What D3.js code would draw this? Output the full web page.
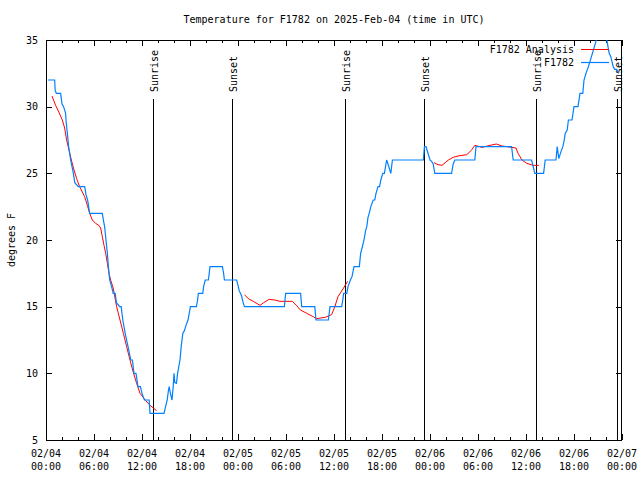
<!DOCTYPE html>
<html>
<head>
<meta charset="utf-8">
<script src="https://cdn.jsdelivr.net/npm/d3@7"></script>
<style>
  body { margin: 0; background: #fff; }
  text { font-family: "DejaVu Sans Mono", monospace; font-size: 10px; fill: #000; }
</style>
</head>
<body>
<svg id="chart" width="640" height="480"></svg>
<script>
// ---- data (hours since 2025-02-04 00:00 UTC) ----
const obsHours = [0.25,1.08,1.15,1.29,1.83,2.0,2.2,2.45,2.5,2.67,2.83,3.08,3.25,3.42,3.6,4.04,4.84,5.0,5.2,5.46,7.04,7.2,7.33,7.5,7.67,7.8,7.96,8.2,8.4,8.65,8.8,9.2,9.4,9.6,9.9,10.25,10.6,10.8,11.0,11.25,11.5,11.8,12.0,12.3,12.9,13.0,14.75,14.95,15.15,15.3,15.4,15.55,15.75,15.9,16.0,16.1,16.3,16.45,16.6,16.75,16.9,17.1,17.3,17.5,17.75,17.9,18.05,18.8,18.95,19.05,19.6,19.7,19.9,20.3,20.4,20.5,22.05,22.2,22.3,23.83,24.0,24.15,24.3,24.45,24.6,24.8,29.8,29.95,31.83,31.96,33.6,33.75,35.3,35.5,36.96,37.1,37.2,37.6,37.75,38.05,38.25,38.5,39.17,39.33,39.55,39.75,39.95,40.1,40.25,40.4,40.6,40.9,41.1,41.25,41.5,41.7,41.85,42.1,42.3,42.58,42.75,42.95,43.1,43.3,47.17,47.3,47.5,47.7,48.0,48.2,48.4,48.6,50.7,50.9,51.1,53.6,53.75,58.2,58.4,60.7,60.9,61.1,62.2,62.4,63.75,63.9,64.1,64.3,64.6,64.75,64.9,65.15,65.3,65.75,66.0,66.5,66.75,67.1,67.25,67.5,67.8,68.0,68.3,68.55,68.8,69.0,69.9,70.1,70.25,70.4,70.6,70.9,71.1,71.3,71.6];
const obsTemps = [32,32,31.2,31,31,30.2,30,29.5,29,28,27,26,25.5,25,24.3,24,24,23.4,23,22,22,21.4,21,20,19,18,17,16.5,16,16,15.3,15,15,14,13,12,11,11,10,10,9,9,8.5,8,8,7,7,7.5,8,8.7,9,8.5,8,9,10,9.3,9.25,10,10.5,11,12,13,13.2,13.6,14,14.5,15,15,15.5,16,16,16.5,17,17,17.5,18,18,17.5,17,17,16.6,16.2,16,15.8,15.4,15,15,16,16,15,15,14,14,15,15,15.5,16,16,16.5,17,17.25,18,18,19,19.5,20,20.7,21,21.7,22,22.5,23,23,23.5,24,24,24.5,25,25,26,25.7,25.3,25,26,26,27,27,26.6,26,25.9,25.7,25,25,25.7,26,26,27,27,26,26,25.5,25,25,26,26,27,26.1,26.5,27,27.4,28,28.25,29,29,30,30,31,31,32,32.5,33,33.4,34,34.5,35,36,36,35,34.5,34,33.75,33,32.8,32.8,32.5];

// analysis series; null marks a gap
const anaHours = [0.75,1.2,1.6,2.04,2.33,2.58,2.875,3.17,3.5,3.83,4.2,4.54,4.83,5.17,5.46,5.79,6.2,6.6,6.83,7.04,7.25,7.46,7.67,7.875,8.08,8.4,8.83,9.25,9.67,10.08,10.5,10.9,11.33,11.75,12.4,13.0,13.83,
  19,
  24.8,25.3,25.9,26.75,27.2,27.9,28.6,29.25,30.8,31.3,31.8,32.6,33.4,33.8,34.9,35.7,36.1,36.5,37.2,37.7,
  43,
  48.5,49.0,49.5,50.3,50.9,51.5,52.6,53.2,53.6,54.5,55.5,56.3,57,58.2,58.75,59.0,59.5,60.1,60.9,61.6];
const anaTemps = [30.8,30.1,29.6,29,28.4,27.5,26.75,26,25.25,24.6,24,23.6,23.25,22.6,22,21.5,21.25,21.1,20.9,20.25,19.6,19,18.25,17.5,17,16.4,15,14,13,12,11,10.1,9.25,8.5,8,7.6,7.2,
  null,
  15.9,15.6,15.4,15.1,15.3,15.55,15.5,15.4,15.4,15.1,14.75,14.5,14.25,14.1,14.2,14.4,15,15.75,16.4,16.9,
  null,
  25.8,25.65,25.6,26,26.2,26.3,26.4,26.75,27.1,26.95,27.1,27.2,27.05,26.95,26.9,26.5,26,25.75,25.6,25.6];

const sunEventHours = [13.4, 23.3, 37.35, 47.3, 61.3, 71.33];
const sunEventLabels = ["Sunrise","Sunset","Sunrise","Sunset","Sunrise","Sunset"];

const yTicks = [5,10,15,20,25,30,35];
const seriesNames = ["F1782 Analysis","F1782"];
const titleText = "Temperature for F1782 on 2025-Feb-04 (time in UTC)";
const yLabel = "degrees F";

// ---- layout ----
const t0 = Date.UTC(2025,1,4,0,0);
const toDate = h => new Date(t0 + h*3600000);
const L = 46, R = 622, T = 40, B = 440;

const svg = d3.select("#chart");
svg.append("rect").attr("width",640).attr("height",480).attr("fill","#fff");

const x = d3.scaleUtc().domain([toDate(0), toDate(72)]).range([L, R]);
const y = d3.scaleLinear().domain([5,35]).range([B, T]);

svg.append("defs").append("clipPath").attr("id","clip")
  .append("rect").attr("x",L).attr("y",T).attr("width",R-L).attr("height",B-T);

// title
svg.append("text").attr("x",(L+R)/2).attr("y",23).attr("text-anchor","middle").text(titleText);

// y label
svg.append("text").attr("transform","translate(15,240) rotate(-90)").attr("text-anchor","middle").text(yLabel);

// axes
const major = d3.range(0,73,6).map(toDate);
const minor = d3.range(0,73,2).filter(h=>h%6!==0).map(toDate);
const fmt1 = d3.utcFormat("%m/%d"), fmt2 = d3.utcFormat("%H:%M");

function strip(g){ g.select(".domain").remove(); g.selectAll("line").attr("stroke","#000").attr("shape-rendering","crispEdges"); }

svg.append("g").attr("transform",`translate(0,${B})`)
  .call(d3.axisBottom(x).tickValues(major).tickSize(-6).tickFormat(""))
  .call(strip);
svg.append("g").attr("transform",`translate(0,${B})`)
  .call(d3.axisBottom(x).tickValues(minor).tickSize(-3).tickFormat(""))
  .call(strip);
svg.append("g").attr("transform",`translate(0,${T})`)
  .call(d3.axisTop(x).tickValues(major).tickSize(-6).tickFormat(""))
  .call(strip);
svg.append("g").attr("transform",`translate(0,${T})`)
  .call(d3.axisTop(x).tickValues(minor).tickSize(-3).tickFormat(""))
  .call(strip);
svg.append("g").attr("transform",`translate(${L},0)`)
  .call(d3.axisLeft(y).tickValues(yTicks).tickSize(-6).tickFormat(""))
  .call(strip);
svg.append("g").attr("transform",`translate(${R},0)`)
  .call(d3.axisRight(y).tickValues(yTicks).tickSize(-6).tickFormat(""))
  .call(strip);

// x tick labels (two lines)
const xl = svg.append("g");
major.forEach(d=>{
  const t = xl.append("text").attr("text-anchor","middle");
  t.append("tspan").attr("x",x(d)).attr("y",457).text(fmt1(d));
  t.append("tspan").attr("x",x(d)).attr("y",470).text(fmt2(d));
});
// y tick labels
yTicks.forEach(v=>{
  svg.append("text").attr("x",38).attr("y",y(v)+3.5).attr("text-anchor","end").text(v);
});

// sunrise / sunset markers
sunEventHours.forEach((h,i)=>{
  const xx = Math.round(x(toDate(h)))+0.5;
  svg.append("line").attr("x1",xx).attr("x2",xx).attr("y1",99).attr("y2",B)
    .attr("stroke","#000").attr("stroke-width",1);
  svg.append("text").attr("transform",`translate(${xx+4},92) rotate(-90)`)
    .attr("text-anchor","start").text(sunEventLabels[i]);
});

// frame
svg.append("rect").attr("x",L+0.5).attr("y",T+0.5).attr("width",R-L-1).attr("height",B-T)
  .attr("fill","none").attr("stroke","#000").attr("shape-rendering","crispEdges");

// data lines
const ana = anaHours.map((h,i)=>({d:toDate(h), v:anaTemps[i]}));
const obs = obsHours.map((h,i)=>({d:toDate(h), v:obsTemps[i]}));
const line = d3.line().defined(p=>p.v!==null).x(p=>x(p.d)).y(p=>y(p.v));
const plot = svg.append("g").attr("clip-path","url(#clip)");
plot.append("path").attr("d",line(ana)).attr("fill","none").attr("stroke","#ff0000").attr("stroke-width",1);
plot.append("path").attr("d",line(obs)).attr("fill","none").attr("stroke","#0080ff").attr("stroke-width",1.2);

// legend
const legColors = ["#ff0000","#0080ff"];
seriesNames.forEach((n,i)=>{
  const yy = 49 + i*13;
  svg.append("text").attr("x",574).attr("y",yy+3.5).attr("text-anchor","end").text(n);
  svg.append("line").attr("x1",581).attr("x2",609).attr("y1",yy+0.5).attr("y2",yy+0.5)
    .attr("stroke",legColors[i]).attr("stroke-width", i===0?1:1.2);
});
</script>
</body>
</html>
